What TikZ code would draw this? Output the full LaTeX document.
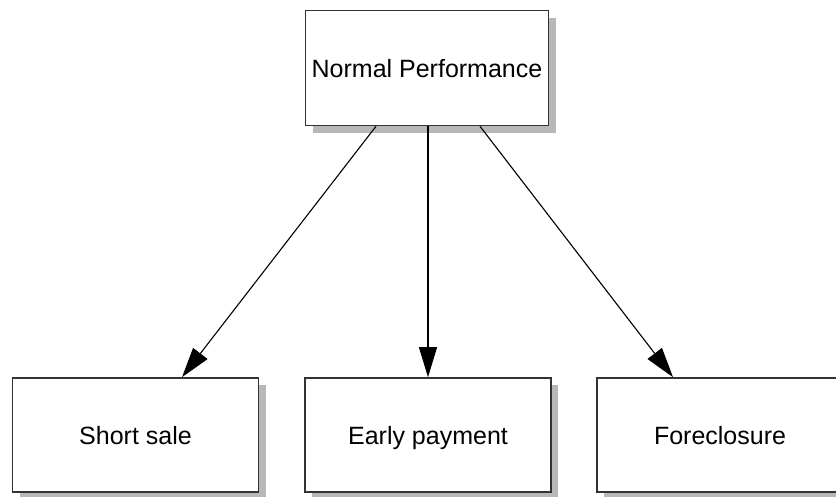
\documentclass[tikz,border=0pt]{standalone}
\usepackage{fontspec}
\setmainfont{Liberation Sans}
\usetikzlibrary{arrows.meta,shadows}
\begin{document}
\begin{tikzpicture}[x=1pt,y=-1pt,
  box/.style={draw=black!80, line width=1.6pt, fill=white, minimum width=246pt, minimum height=114pt, inner sep=0pt, text height=18pt, text depth=0pt, font=\fontsize{25}{30}\selectfont,
    drop shadow={shadow xshift=7pt, shadow yshift=-7pt, fill=black!28, opacity=1}},
  conn/.style={line width=1.1pt, -{Triangle[length=30pt,width=18pt]}}]
\clip (0,0) rectangle (836,496);
\fill[white] (0,0) rectangle (836,496);
\node[box, minimum width=243pt, minimum height=115pt] (np) at (427,68) {Normal Performance};
\node[box] (ss) at (135.5,435) {Short sale};
\node[box] (ep) at (428,435) {Early payment};
\node[box] (fc) at (720,435) {Foreclosure};
\draw[conn] ([xshift=-51pt]np.south) -- ([xshift=46.5pt]ss.north);
\draw[conn] ([xshift=1pt]np.south) -- (ep.north);
\draw[conn] ([xshift=53pt]np.south) -- ([xshift=-47pt]fc.north);
\end{tikzpicture}
\end{document}
